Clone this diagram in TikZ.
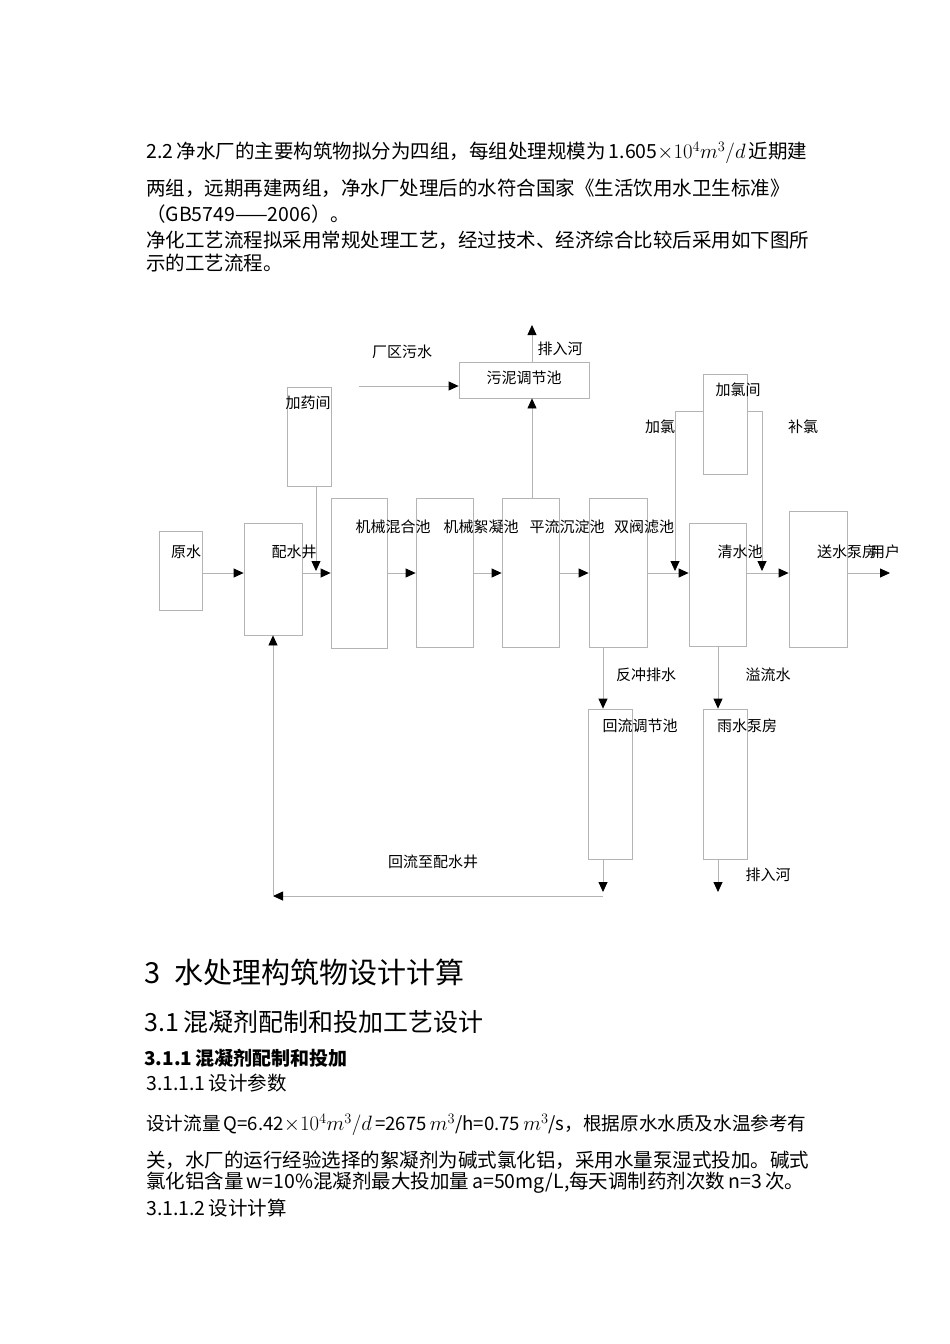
\documentclass[tikz,border=0pt]{standalone}
\usepackage{fontspec}
\setmainfont{Noto Sans CJK SC}
\usepackage{tikz}
\usetikzlibrary{positioning, arrows.meta}
\definecolor{linegray}{RGB}{180, 180, 180}
\newcommand{\mth}[1]{{\fontsize{20}{23}\selectfont$#1$}}

\begin{document}
\begin{tikzpicture}[
            x=1pt, y=-1pt,
            box/.style={draw=linegray, line width=0.8pt, inner sep=0pt},
            lbl/.style={inner sep=0pt, font=\fontsize{15}{18}\selectfont},
            txt/.style={anchor=west, inner sep=0pt, font=\fontsize{19.5}{23}\selectfont},
            arrow/.style={draw=linegray, line width=0.8pt, -{Triangle[length=10pt, width=9pt, color=black]}},
            link/.style={draw=linegray, line width=0.8pt}
        ]
            \useasboundingbox[fill=white] (0,0) rectangle (950,1344);

            % text above the chart
            \node[txt] (p1) at (146,153) {2.2\,净水厂的主要构筑物拟分为四组，每组处理规模为\,1.605\mth{\times10^4m^3/d}\,近期建};
            \node[txt] (p2) at (146,188) {两组，远期再建两组，净水厂处理后的水符合国家《生活饮用水卫生标准》};
            \node[txt] (p3) at (146,214) {（GB5749——2006）。};
            \node[txt] (p4) at (146,240) {净化工艺流程拟采用常规处理工艺，经过技术、经济综合比较后采用如下图所};
            \node[txt] (p5) at (146,263) {示的工艺流程。};

            % boxes
            \node[box, minimum width=43, minimum height=79] (ys) at (180.5,570.5) {};
            \node[box, minimum width=58, minimum height=112] (pjs) at (273,579) {};
            \node[box, minimum width=56, minimum height=150] (hh) at (359,573) {};
            \node[box, minimum width=57, minimum height=149] (xn) at (444.5,572.5) {};
            \node[box, minimum width=57, minimum height=149] (cd) at (530.5,572.5) {};
            \node[box, minimum width=58, minimum height=149] (lc) at (618,572.5) {};
            \node[box, minimum width=57, minimum height=123] (qs) at (717.5,584.5) {};
            \node[box, minimum width=58, minimum height=136] (sb) at (818,579) {};
            \node[box, minimum width=44, minimum height=99] (jy) at (309,436.5) {};
            \node[box, minimum width=130, minimum height=36] (wn) at (524,380) {};
            \node[box, minimum width=44, minimum height=100] (jl) at (725,424) {};
            \node[box, minimum width=44, minimum height=150] (hl) at (610,784) {};
            \node[box, minimum width=44, minimum height=150] (yb) at (725,784) {};

            % labels
            \node[lbl] (ys-t) at (186,552) {原水};
            \node[lbl] (pjs-t) at (294,552) {配水井};
            \node[lbl] (hh-t) at (393,527) {机械混合池};
            \node[lbl] (xn-t) at (481,527) {机械絮凝池};
            \node[lbl] (cd-t) at (567,527) {平流沉淀池};
            \node[lbl] (lc-t) at (644,527) {双阀滤池};
            \node[lbl] (qs-t) at (740,552) {清水池};
            \node[lbl] (sb-t) at (847,552) {送水泵房};
            \node[lbl] (yh-t) at (885,552) {用户};
            \node[lbl] (jy-t) at (308,403) {加药间};
            \node[lbl] (cq-t) at (402,352) {厂区污水};
            \node[lbl] (wn-t) at (524,378) {污泥调节池};
            \node[lbl] (ph1-t) at (560,349) {排入河};
            \node[lbl] (jl-t) at (738,390) {加氯间};
            \node[lbl] (jlL-t) at (660,427) {加氯};
            \node[lbl] (jlR-t) at (803,427) {补氯};
            \node[lbl] (fc-t) at (646,675) {反冲排水};
            \node[lbl] (yl-t) at (768,675) {溢流水};
            \node[lbl] (hl-t) at (640,726) {回流调节池};
            \node[lbl] (yb-t) at (747,726) {雨水泵房};
            \node[lbl] (ph2-t) at (768,875) {排入河};
            \node[lbl] (hp-t) at (433,862) {回流至配水井};

            % free ends
            \coordinate (m) at (0,573);
            \coordinate (yh) at (890,573);
            \coordinate (jyE) at (316,571);
            \coordinate (cq) at (359,386);
            \coordinate (ph1) at (532,325);
            \coordinate (cl) at (0,411);
            \coordinate (jlL) at (675,571);
            \coordinate (jlR) at (762,571);
            \coordinate (fx) at (603,0);
            \coordinate (hlE) at (603,892);
            \coordinate (ph2) at (718,892);
            \coordinate (hb) at (603,896);
            \coordinate (pb) at (273,896);

            % main flow
            \draw[arrow] (ys.east|-m) -- (pjs.west|-m);
            \draw[arrow] (pjs.east|-m) -- (hh.west|-m);
            \draw[arrow] (hh.east|-m) -- (xn.west|-m);
            \draw[arrow] (xn.east|-m) -- (cd.west|-m);
            \draw[arrow] (cd.east|-m) -- (lc.west|-m);
            \draw[arrow] (lc.east|-m) -- (qs.west|-m);
            \draw[arrow] (qs.east|-m) -- (sb.west|-m);
            \draw[arrow] (sb.east|-m) -- (yh);

            % dosing, sludge, chlorine
            \draw[arrow] (jy.south-|jyE) -- (jyE);
            \draw[arrow] (cq) -- (cq-|wn.west);
            \draw[arrow] (cd.north-|ph1) -- (wn.south-|ph1);
            \draw[arrow] (wn.north-|ph1) -- (ph1);
            \draw[arrow] (jl.west|-cl) -| (jlL);
            \draw[arrow] (jl.east|-cl) -| (jlR);

            % backwash and overflow
            \draw[arrow] (lc.south-|fx) -- (hl.north-|fx);
            \draw[arrow] (qs.south-|ph2) -- (yb.north-|ph2);
            \draw[arrow] (hl.south-|fx) -- (hlE);
            \draw[arrow] (yb.south-|ph2) -- (ph2);
            \draw[arrow] (hb) -- (pb);
            \draw[arrow] (pb) -- (pjs.south);

            % text below the chart
            \node[anchor=west, inner sep=0pt, font=\fontsize{29}{34}\selectfont] (h1) at (144,972) {3\hspace{14pt}水处理构筑物设计计算};
            \node[anchor=west, inner sep=0pt, font=\fontsize{25}{30}\selectfont] (h2) at (144,1022) {3.1\,混凝剂配制和投加工艺设计};
            \node[anchor=west, inner sep=0pt, font=\bfseries\fontsize{19}{22}\selectfont] (h3) at (144,1058) {3.1.1\,混凝剂配制和投加};
            \node[txt] (q1) at (146,1083) {3.1.1.1\,设计参数};
            \node[txt, font=\fontsize{18.6}{23}\selectfont] (q2) at (146,1125) {设计流量\,Q=6.42\mth{\times10^4m^3/d}\,=2675\,\mth{m^3}/h=0.75\,\mth{m^3}/s，根据原水水质及水温参考有};
            \node[txt] (q3) at (146,1160) {关，水厂的运行经验选择的絮凝剂为碱式氯化铝，采用水量泵湿式投加。碱式};
            \node[txt] (q4) at (146,1183) {氯化铝含量\,w=10\%混凝剂最大投加量\,a=50mg/L,每天调制药剂次数\,n=3\,次。};
            \node[txt] (q5) at (146,1208) {3.1.1.2\,设计计算};
        \end{tikzpicture}
\end{document}
